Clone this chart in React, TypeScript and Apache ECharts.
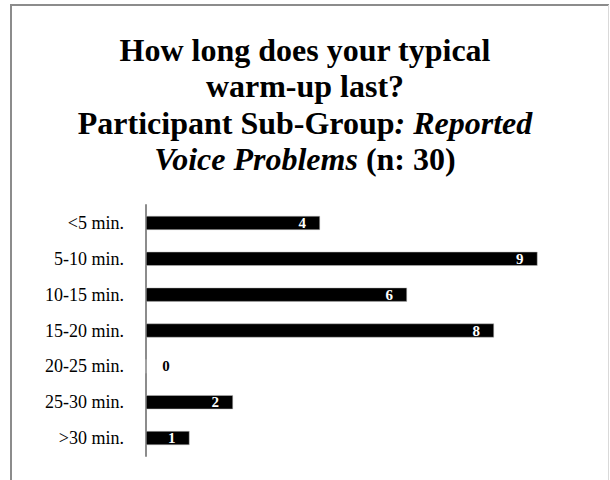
import React, { useEffect, useRef } from "react";
import * as echarts from "echarts";

const categories = ["<5 min.", "5-10 min.", "10-15 min.", "15-20 min.", "20-25 min.", "25-30 min.", ">30 min."];
const counts = [4, 9, 6, 8, 0, 2, 1];
const titleLines = [
  "{b|How long does your typical}",
  "{b|warm-up last?}",
  "{b|Participant Sub-Group}{bi|: Reported}",
  "{bi|Voice Problems}{b| (n: 30)}",
];

const SERIF = "'Liberation Serif', 'Times New Roman', Times, serif";

export default function App() {
  const ref = useRef<HTMLDivElement>(null);
  useEffect(() => {
    if (!ref.current) return;
    const chart = echarts.init(ref.current, null, { renderer: "svg" });
    chart.setOption({
      animation: false,
      backgroundColor: "#ffffff",
      title: {
        left: "center",
        top: 27,
        padding: [5, 0, 5, 10],
        text: titleLines.join("\n"),
        textStyle: {
          fontFamily: SERIF,
          fontSize: 32,
          lineHeight: 36.3,
          color: "#000",
          rich: {
            b: { fontFamily: SERIF, fontSize: 32, fontWeight: "bold", lineHeight: 36.3, color: "#000" },
            bi: { fontFamily: SERIF, fontSize: 32, fontWeight: "bold", fontStyle: "italic", lineHeight: 36.3, color: "#000" },
          },
        },
      },
      graphic: [
        { type: "line", shape: { x1: 11, y1: 5, x2: 609, y2: 5 }, style: { stroke: "#8c8c8c", lineWidth: 2 } },
        { type: "line", shape: { x1: 11, y1: 4, x2: 11, y2: 480 }, style: { stroke: "#8c8c8c", lineWidth: 2 } },
        { type: "line", shape: { x1: 608.5, y1: 5, x2: 608.5, y2: 480 }, style: { stroke: "#d9d9d9", lineWidth: 1 } },
      ],
      grid: { left: 146, top: 205, width: 435, height: 251, containLabel: false },
      xAxis: { type: "value", min: 0, max: 10, show: false },
      yAxis: {
        type: "category",
        data: categories,
        inverse: true,
        axisLine: { show: true, lineStyle: { color: "#8c8c8c", width: 2 } },
        axisTick: { show: false },
        splitLine: { show: false },
        axisLabel: { fontFamily: SERIF, fontSize: 18, color: "#000", margin: 22 },
      },
      series: [
        {
          type: "bar",
          barWidth: 14,
          data: counts.map((v) => ({
            value: v,
            label:
              v === 0
                ? { show: true, position: "right", distance: 16, color: "#000" }
                : { show: true, position: "insideRight", distance: 14, color: "#fff" },
          })),
          itemStyle: { color: "#000", borderColor: "#bfbfbf", borderWidth: 0.5 },
          label: { show: true, fontFamily: SERIF, fontSize: 15, fontWeight: "bold" },
        },
      ],
    });
    return () => chart.dispose();
  }, []);
  return <div ref={ref} style={{ position: "fixed", left: 0, top: 0, width: 610, height: 480 }} />;
}
